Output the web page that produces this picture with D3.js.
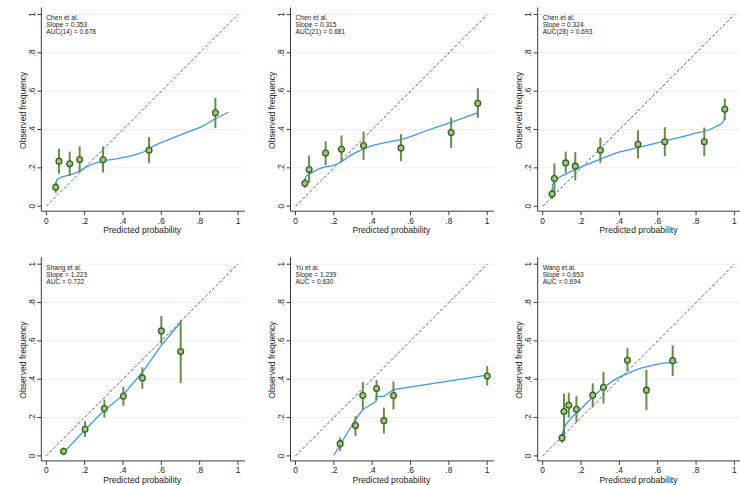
<!DOCTYPE html>
<html><head><meta charset="utf-8">
<script src="https://cdn.jsdelivr.net/npm/d3@7"></script>
<style>body{margin:0;background:#fff}svg{display:block}text{font-family:"Liberation Sans",Arial,sans-serif;fill:#222}</style>
</head><body><svg id="c" width="740" height="485"></svg>
<script>
// ---- data ----
const tickVals = [0, 0.2, 0.4, 0.6, 0.8, 1];
const tickLabels = ["0", ".2", ".4", ".6", ".8", "1"];
const xTitle = "Predicted probability";
const yTitle = "Observed frequency";

const titles1 = ["Chen et al.", "Slope = 0.353", "AUC(14) = 0.678"];
const p1X  = [0.049, 0.066, 0.122, 0.174, 0.296, 0.536, 0.882];
const p1Y  = [0.099, 0.235, 0.221, 0.243, 0.242, 0.292, 0.487];
const p1Lo = [0.070, 0.169, 0.157, 0.177, 0.176, 0.224, 0.407];
const p1Hi = [0.125, 0.300, 0.285, 0.313, 0.311, 0.360, 0.565];
const c1X  = [0.050, 0.052, 0.056, 0.080, 0.120, 0.170, 0.220, 0.260, 0.300, 0.380, 0.450, 0.500, 0.550, 0.620, 0.720, 0.820, 0.880, 0.950];
const c1Y  = [0.105, 0.125, 0.138, 0.152, 0.162, 0.182, 0.210, 0.226, 0.236, 0.250, 0.265, 0.280, 0.308, 0.340, 0.380, 0.420, 0.455, 0.490];

const titles2 = ["Chen et al.", "Slope = 0.315", "AUC(21) = 0.681"];
const p2X  = [0.049, 0.071, 0.157, 0.240, 0.355, 0.550, 0.812, 0.951];
const p2Y  = [0.120, 0.191, 0.277, 0.297, 0.317, 0.304, 0.384, 0.537];
const p2Lo = [0.096, 0.122, 0.214, 0.231, 0.242, 0.235, 0.304, 0.461];
const p2Hi = [0.144, 0.264, 0.339, 0.369, 0.390, 0.376, 0.463, 0.616];
const c2X  = [0.049, 0.052, 0.057, 0.083, 0.136, 0.162, 0.188, 0.240, 0.292, 0.353, 0.397, 0.449, 0.553, 0.675, 0.814, 0.951];
const c2Y  = [0.125, 0.145, 0.157, 0.174, 0.200, 0.207, 0.210, 0.232, 0.268, 0.298, 0.315, 0.328, 0.348, 0.391, 0.438, 0.487];

const titles3 = ["Chen et al.", "Slope = 0.324", "AUC(28) = 0.693"];
const p3X  = [0.049, 0.061, 0.120, 0.170, 0.301, 0.497, 0.637, 0.843, 0.950];
const p3Y  = [0.064, 0.144, 0.226, 0.209, 0.292, 0.323, 0.336, 0.336, 0.506];
const p3Lo = [0.038, 0.073, 0.174, 0.134, 0.226, 0.249, 0.261, 0.261, 0.449];
const p3Hi = [0.087, 0.223, 0.285, 0.282, 0.358, 0.397, 0.412, 0.410, 0.562];
const c3X  = [0.049, 0.050, 0.052, 0.073, 0.125, 0.177, 0.247, 0.317, 0.403, 0.490, 0.630, 0.769, 0.908, 0.943, 0.950];
const c3Y  = [0.073, 0.095, 0.113, 0.139, 0.170, 0.195, 0.223, 0.252, 0.283, 0.304, 0.339, 0.374, 0.417, 0.443, 0.478];

const titles4 = ["Shang et al.", "Slope = 1.223", "AUC = 0.722"];
const p4X  = [0.090, 0.202, 0.303, 0.402, 0.501, 0.600, 0.701];
const p4Y  = [0.024, 0.139, 0.247, 0.311, 0.407, 0.652, 0.544];
const p4Lo = [0.003, 0.099, 0.200, 0.261, 0.350, 0.586, 0.379];
const p4Hi = [0.043, 0.181, 0.294, 0.360, 0.461, 0.729, 0.708];
const c4X  = [0.090, 0.200, 0.300, 0.400, 0.500, 0.600, 0.700];
const c4Y  = [0.017, 0.134, 0.235, 0.317, 0.435, 0.577, 0.696];

const titles5 = ["Yu et al.", "Slope = 1.239", "AUC = 0.630"];
const p5X  = [0.233, 0.313, 0.351, 0.423, 0.461, 0.511, 1.000];
const p5Y  = [0.064, 0.158, 0.315, 0.351, 0.184, 0.315, 0.417];
const p5Lo = [0.026, 0.104, 0.242, 0.290, 0.117, 0.242, 0.367];
const p5Hi = [0.096, 0.207, 0.386, 0.395, 0.252, 0.388, 0.468];
const c5X  = [0.200, 0.313, 0.351, 0.420, 0.420, 0.461, 0.511, 1.000];
const c5Y  = [0.003, 0.191, 0.242, 0.284, 0.310, 0.310, 0.346, 0.421];

const titles6 = ["Wang et al.", "Slope = 0.653", "AUC = 0.694"];
const p6X  = [0.101, 0.111, 0.136, 0.176, 0.261, 0.317, 0.442, 0.541, 0.678];
const p6Y  = [0.094, 0.231, 0.264, 0.243, 0.317, 0.358, 0.499, 0.343, 0.497];
const p6Lo = [0.068, 0.100, 0.200, 0.174, 0.252, 0.273, 0.440, 0.238, 0.417];
const p6Hi = [0.115, 0.325, 0.330, 0.313, 0.379, 0.438, 0.562, 0.449, 0.577];
const c6X  = [0.101, 0.104, 0.108, 0.143, 0.195, 0.264, 0.317, 0.386, 0.438, 0.508, 0.595, 0.664, 0.704];
const c6Y  = [0.104, 0.122, 0.136, 0.191, 0.240, 0.310, 0.355, 0.403, 0.428, 0.456, 0.478, 0.487, 0.487];

const panels = [
  {t: titles1, x: p1X, y: p1Y, lo: p1Lo, hi: p1Hi, cx: c1X, cy: c1Y, col: 0, row: 0, smooth: true},
  {t: titles2, x: p2X, y: p2Y, lo: p2Lo, hi: p2Hi, cx: c2X, cy: c2Y, col: 1, row: 0, smooth: true},
  {t: titles3, x: p3X, y: p3Y, lo: p3Lo, hi: p3Hi, cx: c3X, cy: c3Y, col: 2, row: 0, smooth: true},
  {t: titles4, x: p4X, y: p4Y, lo: p4Lo, hi: p4Hi, cx: c4X, cy: c4Y, col: 0, row: 1, smooth: false},
  {t: titles5, x: p5X, y: p5Y, lo: p5Lo, hi: p5Hi, cx: c5X, cy: c5Y, col: 1, row: 1, smooth: false},
  {t: titles6, x: p6X, y: p6Y, lo: p6Lo, hi: p6Hi, cx: c6X, cy: c6Y, col: 2, row: 1, smooth: true}
];

// ---- layout ----
const colX0 = [46.3, 295.5, 542.7];
const rowTop = [14.5, 264.2];
const side = 191.7;

const svg = d3.select("#c");

panels.forEach(p => {
  const x0 = colX0[p.col], top = rowTop[p.row];
  const xs = d3.scaleLinear().domain([0, 1]).range([x0, x0 + side]);
  const ys = d3.scaleLinear().domain([0, 1]).range([top + side, top]);
  const g = svg.append("g");
  const axX = x0 - 5, axY = top + side + 5;
  const right = Math.min(x0 + side + 7, 740);

  // grid
  g.selectAll(".grid").data(tickVals.filter(v => v > 0)).enter().append("line")
    .attr("x1", axX).attr("x2", right)
    .attr("y1", d => ys(d)).attr("y2", d => ys(d))
    .attr("stroke", "#e6eef1").attr("stroke-width", 1);

  // axes lines
  g.append("line").attr("x1", axX).attr("x2", axX).attr("y1", top - 7).attr("y2", axY)
    .attr("stroke", "#3a3a3a").attr("stroke-width", 1);
  g.append("line").attr("x1", axX).attr("x2", right).attr("y1", axY).attr("y2", axY)
    .attr("stroke", "#3a3a3a").attr("stroke-width", 1);

  // ticks
  g.selectAll(".yt").data(tickVals).enter().append("line")
    .attr("x1", axX - 4).attr("x2", axX).attr("y1", d => ys(d)).attr("y2", d => ys(d))
    .attr("stroke", "#3a3a3a");
  g.selectAll(".xt").data(tickVals).enter().append("line")
    .attr("y1", axY).attr("y2", axY + 4).attr("x1", d => xs(d)).attr("x2", d => xs(d))
    .attr("stroke", "#3a3a3a");

  // tick labels
  g.selectAll(".yl").data(tickVals).enter().append("text")
    .attr("transform", d => `translate(${axX - 9.5},${ys(d)}) rotate(-90)`)
    .attr("text-anchor", "middle").attr("dy", "0.35em")
    .style("font-size", "8.4px").text((d, i) => tickLabels[i]);
  g.selectAll(".xl").data(tickVals).enter().append("text")
    .attr("x", d => xs(d)).attr("y", axY + 12.5)
    .attr("text-anchor", "middle")
    .style("font-size", "8.4px").text((d, i) => tickLabels[i]);

  // titles
  g.append("text").attr("x", xs(0.5)).attr("y", axY + 21.8)
    .attr("text-anchor", "middle").style("font-size", "8.6px").text(xTitle);
  g.append("text")
    .attr("transform", `translate(${axX - 18.5},${ys(0.5)}) rotate(-90)`)
    .attr("text-anchor", "middle").attr("dy", "0.35em")
    .style("font-size", "8.6px").text(yTitle);

  // annotation
  g.selectAll(".ann").data(p.t).enter().append("text")
    .attr("x", xs(0)).attr("y", (d, i) => top + 5.3 + i * 7.1)
    .style("font-size", "6.6px").text(d => d);

  // diagonal
  g.append("line").attr("x1", xs(0)).attr("y1", ys(0)).attr("x2", xs(1)).attr("y2", ys(1))
    .attr("stroke", "#4d6784").attr("stroke-width", 1).attr("stroke-dasharray", "3,2");

  // smooth curve
  const pts = p.cx.map((v, i) => [v, p.cy[i]]);
  const line = d3.line().x(d => xs(d[0])).y(d => ys(d[1]))
    .curve(p.smooth ? d3.curveMonotoneX : d3.curveLinear);
  g.append("path").attr("d", line(pts)).attr("fill", "none")
    .attr("stroke", "#3a98f5").attr("stroke-width", 1.3);

  // error bars
  g.selectAll(".eb").data(p.x).enter().append("line")
    .attr("x1", d => xs(d)).attr("x2", d => xs(d))
    .attr("y1", (d, i) => ys(p.lo[i])).attr("y2", (d, i) => ys(p.hi[i]))
    .attr("stroke", "#6a8c45").attr("stroke-width", 2);

  // points
  g.selectAll(".pt").data(p.x).enter().append("circle")
    .attr("cx", d => xs(d)).attr("cy", (d, i) => ys(p.y[i])).attr("r", 2.9)
    .attr("fill", "#a8c47a").attr("stroke", "#2b6420").attr("stroke-width", 1.3);
});
</script></body></html>
